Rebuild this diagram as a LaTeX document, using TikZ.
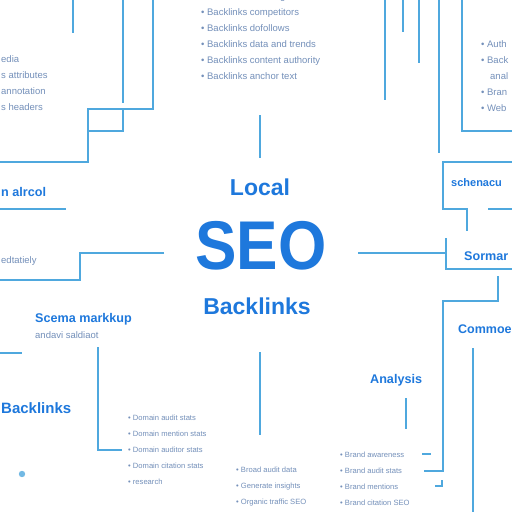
\documentclass[tikz,border=0pt]{standalone}
\usepackage{fontspec}
\setmainfont{Liberation Sans}
\usepackage{xcolor}
\usetikzlibrary{positioning}

\definecolor{seoblue}{HTML}{1E78DC}
\definecolor{wireblue}{HTML}{4FA8DE}
\definecolor{itemgrey}{HTML}{7490BA}

\begin{document}
\begin{tikzpicture}[
  x=1pt,y=-1pt,
  wire/.style={draw=wireblue,line width=1.8pt},
  heading/.style={text=seoblue,font=\bfseries\fontsize{12.6}{14}\selectfont,inner sep=0pt},
  bigword/.style={text=seoblue,font=\bfseries\fontsize{23}{26}\selectfont,inner sep=0pt},
  itemlist/.style={text=itemgrey,font=\fontsize{9.5}{16}\selectfont,align=left,inner sep=0pt},
  smalllist/.style={text=itemgrey,font=\fontsize{7.6}{16}\selectfont,align=left,inner sep=0pt},
  note/.style={text=itemgrey,font=\fontsize{9.5}{12}\selectfont,inner sep=0pt}
]
\fill[white] (0,0) rectangle (512,512);
\useasboundingbox (0,0) rectangle (512,512);

% centre words
\node[bigword] (local) at (260,187) {Local};
\node[text=seoblue,font=\bfseries\fontsize{69}{72}\selectfont,inner sep=0pt] (seo) at (261,246) {\scalebox{0.9}[1]{SEO}};
\node[bigword] (backlinks) at (257,306) {Backlinks};

% side headings
\node[heading,anchor=base west] (technical) at (1,196.5) {n alrcol};
\node[note,anchor=base west] (authority) at (1,263) {edtatiely};
\node[heading,anchor=base west] (schema) at (35,322.5) {Scema markkup};
\node[note,anchor=base west] (schemanote) at (35,338.5) {andavi saldiaot};
\node[text=seoblue,font=\bfseries\fontsize{15}{17}\selectfont,inner sep=0pt,anchor=base west] (leftlinks) at (1,413) {Backlinks};
\node[heading,anchor=base west] (analysis) at (370,383) {Analysis};
\node[heading,anchor=base west] (summary) at (464,260) {Sormar};
\node[text=seoblue,font=\bfseries\fontsize{11}{13}\selectfont,inner sep=0pt,anchor=base west] (schemaright) at (451,186) {schenacu};
\node[text=seoblue,font=\bfseries\fontsize{12.5}{15}\selectfont,inner sep=0pt,anchor=base west] (commerce) at (458,333) {Commoe};

% bullet lists
\node[itemlist,anchor=north west] (toplist) at (201,-7.5) {%
  \textbullet\ Backlinks referring domains\\
  \textbullet\ Backlinks competitors\\
  \textbullet\ Backlinks dofollows\\
  \textbullet\ Backlinks data and trends\\
  \textbullet\ Backlinks content authority\\
  \textbullet\ Backlinks anchor text};
\node[itemlist,anchor=north west] (leftlist) at (1,55.5) {%
  edia\\
  s attributes\\
  annotation\\
  s headers};
\node[itemlist,anchor=north west] (rightlist) at (481,40.5) {%
  \textbullet\ Auth\\
  \textbullet\ Back\\
  \hspace*{9pt}anal\\
  \textbullet\ Bran\\
  \textbullet\ Web};
\node[smalllist,anchor=north west] (domainlist) at (128,414.5) {%
  \textbullet\ Domain audit stats\\
  \textbullet\ Domain mention stats\\
  \textbullet\ Domain auditor stats\\
  \textbullet\ Domain citation stats\\
  \textbullet\ research};
\node[smalllist,anchor=north west] (auditlist) at (236,466.5) {%
  \textbullet\ Broad audit data\\
  \textbullet\ Generate insights\\
  \textbullet\ Organic traffic SEO};
\node[smalllist,anchor=north west] (brandlist) at (340,451.5) {%
  \textbullet\ Brand awareness\\
  \textbullet\ Brand audit stats\\
  \textbullet\ Brand mentions\\
  \textbullet\ Brand citation SEO};

% wiring, top left
\draw[wire] (73,0) -- (73,33);
\draw[wire] (123,0) -- (123,103);
\draw[wire] (153,0) -- (153,109) -- (88,109) -- (88,162) -- (0,162);
\draw[wire] (88,131) -- (123,131) -- (123,109);
% wiring, left
\draw[wire] (0,209) -- (66,209);
\draw[wire] (164,253) -- (80,253) -- (80,280) -- (0,280);
\draw[wire] (0,353) -- (22,353);
\draw[wire] (98,347) -- (98,450) -- (122,450);
\fill[wireblue!80] (22,474) circle (3.2);
% wiring, centre
\draw[wire] (260,115) -- (260,158);
\draw[wire] (260,352) -- (260,435);
% wiring, top right
\draw[wire] (385,0) -- (385,100);
\draw[wire] (403,0) -- (403,32);
\draw[wire] (419,0) -- (419,63);
\draw[wire] (439,0) -- (439,153);
\draw[wire] (462,0) -- (462,131) -- (512,131);
\draw[wire] (512,162) -- (443,162) -- (443,209) -- (467,209) -- (467,231);
\draw[wire] (488,209) -- (512,209);
% wiring, right
\draw[wire] (358,253) -- (446,253);
\draw[wire] (446,238) -- (446,269) -- (512,269);
\draw[wire] (498,276) -- (498,301) -- (443,301) -- (443,471) -- (424,471);
\draw[wire] (473,348) -- (473,512);
\draw[wire] (406,398) -- (406,429);
\draw[wire] (422,454) -- (431,454);
\draw[wire] (435,486) -- (442,486) -- (442,480);
\end{tikzpicture}
\end{document}
